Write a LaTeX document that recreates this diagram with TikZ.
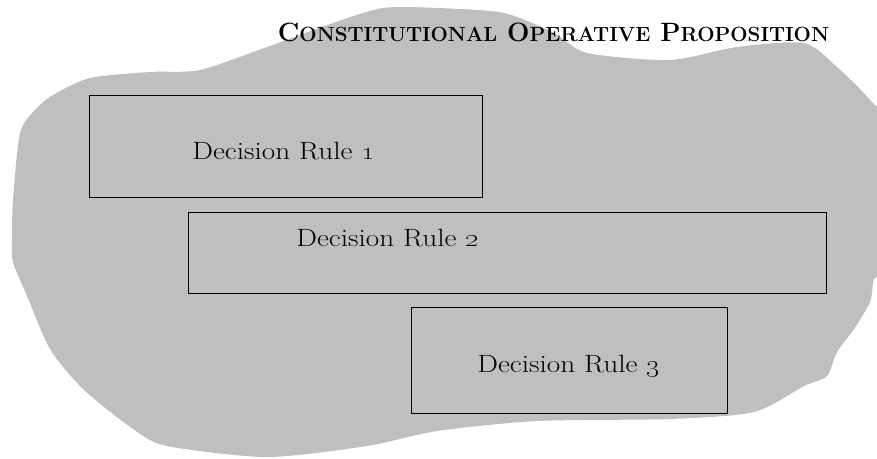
\documentclass[tikz,border=0pt]{standalone}
\definecolor{blobgray}{RGB}{191,191,191}
\newcommand{\tsc}[1]{{\fontsize{20.5}{24}\selectfont #1}}
\newcommand{\wide}[1]{\scalebox{1.17}[1]{#1}}
\begin{document}
\begin{tikzpicture}[x=1pt,y=1pt,
  rulebox/.style={draw=black, line width=0.9pt, inner sep=0pt, outer sep=0pt},
  ruletext/.style={font=\fontsize{25}{30}\selectfont, inner sep=0pt, anchor=base},
  titletext/.style={font=\bfseries\fontsize{26.5}{30}\selectfont, inner sep=0pt, anchor=base}]
\useasboundingbox (0,0) rectangle (877,458);
\begin{scope}
\clip (0,0) rectangle (877,458);
\fill[blobgray] plot[smooth cycle, tension=0.45] coordinates {
 (12,218) (13,258) (20,325) (35,348) (53,363) (90,380) (150,386) (200,388)
 (267,411) (333,435) (383,450) (437,450) (504,445) (554,425) (587,405)
 (670,398) (737,411) (804,415) (837,391) (870,358) (885,330)
 (885,196) (874,179) (870,156) (854,129) (837,106) (827,82) (804,72)
 (754,46) (670,39) (537,37) (437,27) (367,12) (267,1) (167,12) (133,29)
 (83,69) (50,109) (27,162) (13,196)};
\end{scope}
\node[titletext] (title) at (553.5,416) {C\tsc{ONSTITUTIONAL} O\tsc{PERATIVE} P\tsc{ROPOSITION}};
\node[rulebox, minimum width=393pt, minimum height=102pt] (r1) at (285.5,312) {};
\node[rulebox, minimum width=638pt, minimum height=81pt] (r2) at (507,205.5) {};
\node[rulebox, minimum width=316pt, minimum height=106pt] (r3) at (569,98) {};
\node[ruletext] (t1) at (283.5,298) {\wide{Decision Rule \oldstylenums{1}}};
\node[ruletext] (t2) at (387.5,211) {\wide{Decision Rule \oldstylenums{2}}};
\node[ruletext] (t3) at (568.5,86) {\wide{Decision Rule \oldstylenums{3}}};
\end{tikzpicture}
\end{document}
